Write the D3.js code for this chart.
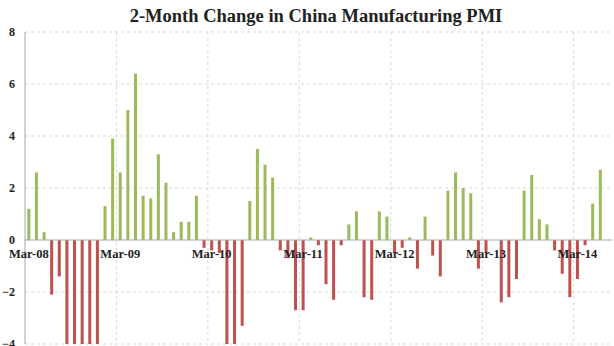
<!DOCTYPE html>
<html>
<head>
<meta charset="utf-8">
<script src="https://cdn.jsdelivr.net/npm/d3@7"></script>
<style>
  body { margin: 0; background: #fff; }
  svg text { font-family: "Liberation Serif", "DejaVu Serif", serif; font-weight: bold; fill: #222; }
</style>
</head>
<body>
<div id="chart"></div>
<script>
// months Mar-08 .. Jun-14
var months = d3.timeMonths(new Date(2008, 2, 1), new Date(2014, 6, 1));
var pmiChange = [
  1.2, 2.6, 0.3, -2.1, -1.4, -5.0, -6.5, -4.1, -5.5, -4.2, 1.3, 3.9,
  2.6, 5.0, 6.4, 1.7, 1.6, 3.3, 2.2, 0.3, 0.7, 0.7, 1.7, -0.3,
  -0.4, -0.5, -4.5, -4.6, -3.3, 1.5, 3.5, 2.9, 2.4, -0.4, -0.7, -2.7,
  -2.7, 0.1, -0.2, -1.7, -2.3, -0.2, 0.6, 1.1, -2.2, -2.3, 1.1, 0.9,
  -0.5, -0.3, 0.1, -1.1, 0.9, -0.6, -1.4, 1.9, 2.6, 2.0, 1.8, -1.1,
  -0.5, 0, -2.4, -2.2, -1.5, 1.9, 2.5, 0.8, 0.6, -0.4, -1.3, -2.2,
  -1.5, -0.2, 1.4, 2.7
];
var xTickLabels = ['Mar-08', 'Mar-09', 'Mar-10', 'Mar-11', 'Mar-12', 'Mar-13', 'Mar-14'];
var yTicks = [-4, -2, 0, 2, 4, 6, 8];

var fmt = d3.timeFormat('%b-%y');
var data = months.map(function(m, i) { return { key: fmt(m), value: pmiChange[i] }; });

var svgWidth = 614, svgHeight = 346;
var plotLeft = 25, plotRight = 612, plotTop = 32, plotBottom = 344;
var step = 7.62;

var svg = d3.select('#chart')
    .append('svg')
    .attr('width', svgWidth)
    .attr('height', svgHeight);

var x = d3.scaleBand()
    .domain(data.map(function(d) { return d.key; }))
    .range([plotLeft, plotLeft + step * data.length])
    .paddingInner(0.6)
    .paddingOuter(0.3);

var y = d3.scaleLinear().domain([-4, 8]).range([plotBottom, plotTop]);

// title
svg.append('text')
    .attr('x', 316)
    .attr('y', 22)
    .attr('text-anchor', 'middle')
    .style('font-size', '18.5px')
    .text('2-Month Change in China Manufacturing PMI');

// horizontal gridlines
svg.append('g').selectAll('line')
    .data(yTicks.filter(function(t) { return t !== 0; }))
    .enter().append('line')
    .attr('x1', plotLeft).attr('x2', plotRight)
    .attr('y1', function(d) { return y(d); })
    .attr('y2', function(d) { return y(d); })
    .attr('stroke', '#d9d9d9')
    .attr('stroke-dasharray', '3,3');

// vertical gridlines at the start of each March
var fullStep = x.step();
function marchEdge(label) {
    var i = data.findIndex(function(e) { return e.key === label; });
    return plotLeft + i * fullStep;
}
svg.append('g').selectAll('line')
    .data(xTickLabels.slice(1))
    .enter().append('line')
    .attr('x1', marchEdge)
    .attr('x2', marchEdge)
    .attr('y1', plotTop).attr('y2', plotBottom)
    .attr('stroke', '#d9d9d9')
    .attr('stroke-dasharray', '3,3');

// y axis line
svg.append('line')
    .attr('x1', plotLeft).attr('x2', plotLeft)
    .attr('y1', plotTop).attr('y2', plotBottom)
    .attr('stroke', '#a6a6a6');

svg.append('clipPath').attr('id', 'plot-clip')
    .append('rect')
    .attr('x', plotLeft).attr('y', plotTop)
    .attr('width', plotRight - plotLeft).attr('height', plotBottom - plotTop);

// bars
var barW = 3;
svg.append('g')
    .attr('clip-path', 'url(#plot-clip)')
    .selectAll('rect')
    .data(data)
    .enter().append('rect')
    .attr('x', function(d) { return x(d.key) + x.bandwidth() / 2 - barW / 2; })
    .attr('width', barW)
    .attr('y', function(d) { return y(Math.max(0, d.value)); })
    .attr('height', function(d) { return Math.abs(y(d.value) - y(0)); })
    .attr('fill', function(d) { return d.value >= 0 ? '#9bbb59' : '#c0504d'; });

// zero line
svg.append('line')
    .attr('x1', plotLeft).attr('x2', plotRight)
    .attr('y1', y(0)).attr('y2', y(0))
    .attr('stroke', '#a6a6a6');

// y axis labels
var yAxis = d3.axisLeft(y).tickValues(yTicks).tickSize(0).tickPadding(10).tickFormat(d3.format('d'));
var gy = svg.append('g').attr('transform', 'translate(' + plotLeft + ',0)').call(yAxis);
gy.select('.domain').remove();
gy.selectAll('text').style('font-size', '12px').style('font-family', '"Liberation Serif", serif');

// x labels
svg.append('g').selectAll('text')
    .data(xTickLabels)
    .enter().append('text')
    .attr('x', function(d) { return x(d) + x.bandwidth() / 2; })
    .attr('y', 258)
    .attr('text-anchor', 'middle')
    .style('font-size', '12.5px')
    .text(function(d) { return d; });
</script>
</body>
</html>
